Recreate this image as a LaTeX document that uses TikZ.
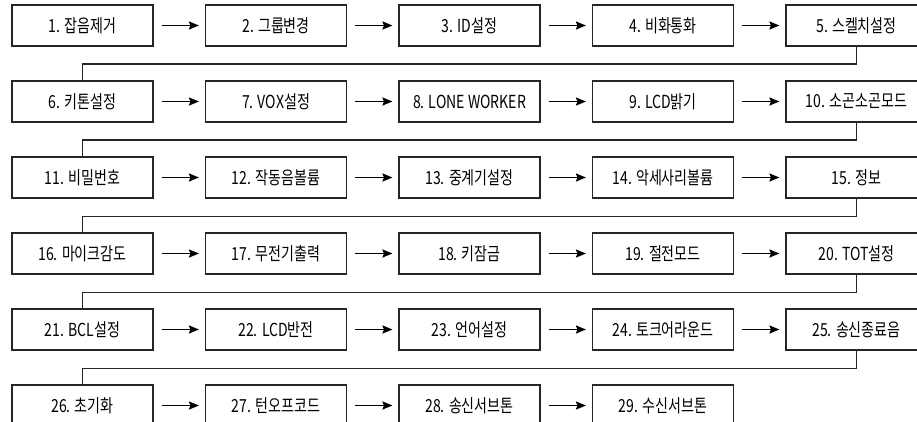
\documentclass[tikz,border=0pt]{standalone}
\usepackage{fontspec}
\setmainfont{Noto Sans CJK KR}[FakeStretch=0.78]
\usetikzlibrary{arrows.meta}
\begin{document}
\begin{tikzpicture}[x=1pt,y=-1pt,
  box/.style={draw=black!85, minimum width=141pt, minimum height=41pt, inner sep=0pt, line width=1.1pt,
    font=\fontsize{18}{20}\selectfont},
  arr/.style={-{Stealth[length=10pt,width=8pt,inset=1.5pt]}, line width=1.8pt},
  link/.style={line width=1.1pt, draw=black!85}]
\useasboundingbox (0,0) rectangle (917,422);
\clip (0,0) rectangle (917,422);
\foreach \i/\t in {1/{1. 잡음제거},2/{2. 그룹변경},3/{3. ID설정},4/{4. 비화통화},5/{5. 스켈치설정},
  6/{6. 키톤설정},7/{7. VOX설정},8/{8. LONE WORKER},9/{9. LCD밝기},10/{10. 소곤소곤모드},
  11/{11. 비밀번호},12/{12. 작동음볼륨},13/{13. 중계기설정},14/{14. 악세사리볼륨},15/{15. 정보},
  16/{16. 마이크감도},17/{17. 무전기출력},18/{18. 키잠금},19/{19. 절전모드},20/{20. TOT설정},
  21/{21. BCL설정},22/{22. LCD반전},23/{23. 언어설정},24/{24. 토크어라운드},25/{25. 송신종료음},
  26/{26. 초기화},27/{27. 턴오프코드},28/{28. 송신서브톤},29/{29. 수신서브톤}}{
  \pgfmathtruncatemacro{\c}{mod(\i-1,5)}
  \pgfmathtruncatemacro{\r}{div(\i-1,5)}
  \node[box] (b\i) at ({82.5+193.5*\c},{25.5+76*\r}) {\t};
}
% arrows within rows
\foreach \a/\b in {1/2,2/3,3/4,4/5,6/7,7/8,8/9,9/10,11/12,12/13,13/14,14/15,
  16/17,17/18,18/19,19/20,21/22,22/23,23/24,24/25,26/27,27/28,28/29}{
  \draw[arr] ([xshift=8pt]b\a.east) -- ([xshift=-6pt]b\b.west);
}
% row links
\foreach \a/\b in {5/6,10/11,15/16,20/21,25/26}{
  \draw[link] (b\a.south) -- ++(0,17.5) -| (b\b.north);
}
\end{tikzpicture}
\end{document}
